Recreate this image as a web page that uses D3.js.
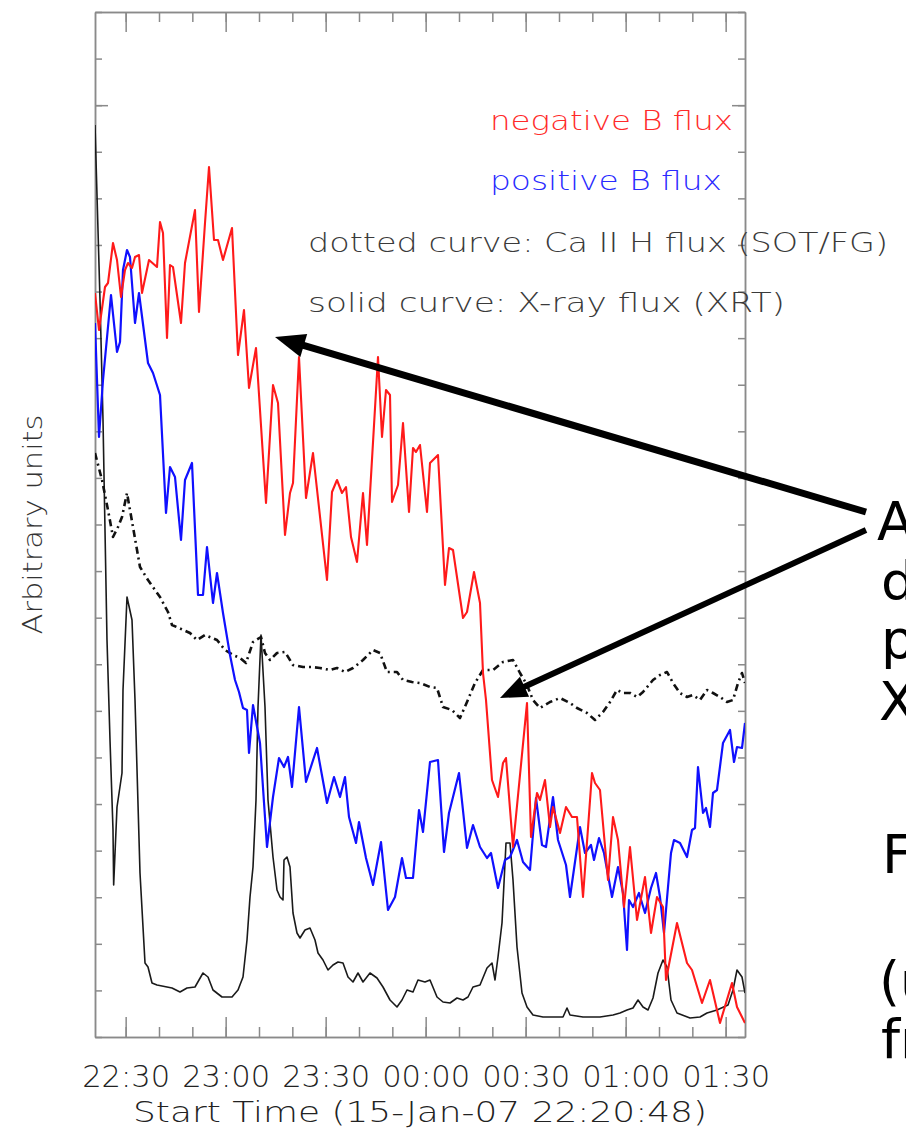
<!DOCTYPE html>
<html>
<head>
<meta charset="utf-8">
<script src="https://cdn.jsdelivr.net/npm/d3@7"></script>
<style>
  html, body { margin: 0; padding: 0; background: #fff; }
  svg { display: block; }
</style>
</head>
<body>
<div id="chart"></div>
<script>
// Time axis: minutes after 15-Jan-07 22:20:48
const tickLabels = ["22:30", "23:00", "23:30", "00:00", "00:30", "01:00", "01:30"];
const majorTicks = [9.2, 39.2, 69.2, 99.2, 129.2, 159.2, 189.2];

// negative B flux (red)
const negT = [0, 1.2, 3.0, 3.9, 5.4, 6.6, 7.8, 9.0, 9.9, 11.1, 12.0, 13.2, 14.1, 16.2, 18.6, 19.5, 20.4, 21.6, 22.5, 23.4,
  25.8, 27.0, 30.0, 31.2, 33.0, 34.2, 35.7, 36.9, 38.4, 41.1, 42.9, 44.7, 46.2, 48.3, 51.3, 53.4, 54.9, 57.0, 58.5, 59.4,
  61.2, 63.3, 65.4, 69.6, 71.1, 72.6, 74.1, 75.3, 76.8, 78.6, 80.4, 81.6, 84.9, 86.1, 87.3, 88.5, 89.1, 90.9, 92.4, 94.2,
  95.4, 96.3, 97.5, 99.6, 100.5, 102.9, 105.0, 106.2, 107.4, 110.4, 111.6, 113.7, 115.5, 116.4, 117.3, 119.1, 120.9, 122.4, 123.3, 125.4,
  129.6, 130.8, 132.6, 133.5, 135.0, 136.5, 137.4, 139.5, 141.3, 143.1, 144.6, 146.4, 149.1, 150.0, 151.5, 153.9, 155.4, 156.9, 158.7, 160.5,
  162.6, 165.0, 166.8, 168.6, 170.4, 171.3, 174.6, 177.6, 179.1, 182.1, 184.5, 187.5, 191.1, 192.6, 195.0];
const negV = [744, 707, 750, 754, 794, 777, 740, 767, 774, 769, 780, 782, 744, 777, 770, 815, 804, 699, 772, 770,
  714, 774, 827, 725, 814, 870, 797, 797, 777, 809, 682, 727, 649, 689, 534, 652, 634, 502, 544, 554,
  680, 539, 584, 457, 545, 557, 544, 550, 500, 475, 544, 492, 680, 600, 647, 642, 535, 552, 614, 525,
  589, 585, 592, 525, 574, 582, 452, 489, 487, 419, 425, 465, 434, 364, 337, 257, 240, 274, 279, 190,
  334, 200, 244, 237, 257, 210, 230, 204, 230, 220, 220, 140, 264, 254, 247, 157, 220, 197, 130, 190,
  117, 160, 104, 140, 130, 57, 114, 74, 67, 34, 57, 14, 54, 30, 14];

// positive B flux (blue)
const posT = [0, 1.2, 2.4, 4.8, 6.6, 7.5, 8.4, 9.6, 10.5, 12.0, 13.2, 15.9, 17.4, 19.5, 21.3, 22.5, 24.0, 25.8, 27.0, 29.1,
  30.9, 32.4, 33.6, 35.4, 36.6, 38.4, 40.5, 42.0, 43.2, 44.4, 45.6, 46.2, 47.4, 49.5, 51.6, 53.4, 55.2, 56.7, 57.9, 59.1,
  61.2, 63.3, 66.6, 69.6, 71.7, 73.5, 75.0, 76.2, 78.3, 79.2, 81.3, 83.4, 85.8, 87.9, 90.0, 92.1, 93.3, 95.4, 97.2, 98.4,
  100.5, 102.9, 104.7, 106.2, 109.2, 111.6, 113.4, 115.5, 117.6, 118.8, 120.9, 123.0, 124.5, 126.6, 128.4, 130.5, 132.3, 134.1, 135.3, 137.4,
  138.9, 141.3, 142.5, 145.5, 147.0, 148.8, 149.7, 151.2, 152.7, 155.1, 156.9, 158.4, 159.6, 160.2, 161.4, 163.2, 165.0, 166.8, 168.3, 169.5,
  170.7, 171.9, 172.8, 173.7, 175.5, 177.6, 179.1, 180.0, 180.9, 182.4, 183.3, 184.5, 185.4, 186.6, 188.4, 190.5, 191.7, 192.6, 194.1, 195.0];
const posV = [714, 600, 657, 742, 685, 695, 767, 787, 780, 714, 744, 674, 664, 642, 524, 570, 560, 497, 557, 574,
  442, 442, 490, 434, 464, 424, 382, 357, 345, 329, 327, 284, 332, 294, 190, 240, 279, 270, 280, 250,
  330, 255, 289, 234, 260, 240, 260, 220, 194, 215, 179, 152, 195, 127, 140, 179, 159, 159, 227, 205,
  275, 277, 185, 224, 264, 189, 212, 190, 179, 184, 149, 177, 180, 197, 175, 167, 239, 192, 190, 240,
  197, 172, 140, 210, 184, 192, 177, 199, 184, 140, 170, 144, 87, 137, 130, 144, 124, 149, 164, 140,
  104, 150, 184, 197, 194, 180, 207, 209, 270, 224, 229, 210, 244, 247, 294, 307, 275, 290, 289, 314];

// Ca II H flux, SOT/FG (dotted)
const caT = [0, 2.1, 3.9, 5.4, 6.9, 8.1, 9.6, 10.5, 11.4, 13.5, 15.9, 19.5, 21.9, 23.1, 25.2, 28.5, 30.6, 33.0, 36.6, 39.0,
  41.4, 43.5, 45.3, 47.4, 49.8, 51.0, 52.5, 54.6, 57.0, 59.4, 62.4, 65.1, 67.5, 70.5, 72.6, 75.0, 77.4, 80.4, 83.4, 85.5,
  87.6, 90.6, 92.4, 95.1, 97.5, 100.5, 102.6, 104.4, 107.1, 109.5, 111.6, 114.0, 116.4, 119.4, 122.4, 125.4, 127.5, 129.6, 131.4, 133.5,
  136.5, 139.5, 142.5, 144.6, 147.6, 150.0, 152.4, 154.5, 156.6, 158.4, 160.5, 162.6, 164.4, 167.4, 169.5, 171.6, 173.4, 175.5, 177.6, 179.4,
  181.5, 183.6, 185.4, 187.5, 189.6, 191.4, 192.9, 194.1, 195.0];
const caV = [584, 557, 527, 500, 510, 520, 544, 527, 510, 470, 457, 440, 425, 412, 409, 404, 397, 402, 397, 387,
  382, 379, 374, 395, 400, 384, 377, 384, 385, 372, 370, 370, 369, 367, 369, 365, 369, 377, 387, 384,
  365, 365, 357, 355, 354, 350, 349, 330, 327, 319, 335, 354, 367, 367, 375, 377, 364, 352, 337, 329,
  335, 339, 334, 329, 324, 317, 325, 335, 347, 344, 344, 340, 345, 357, 362, 365, 354, 344, 340, 342,
  337, 347, 344, 340, 335, 337, 354, 364, 354];

// X-ray flux, XRT (solid)
const xrtT = [0, 1.5, 2.4, 3.6, 4.5, 5.4, 5.6, 6.6, 8.1, 8.4, 9.6, 11.1, 12.0, 13.5, 15.0, 15.9, 17.1, 18.6, 21.6, 23.1,
  25.5, 27.6, 30.0, 32.4, 33.9, 35.4, 38.1, 41.1, 42.9, 44.4, 45.6, 46.5, 47.4, 48.3, 48.9, 49.8, 51.0, 51.9, 53.4, 54.6,
  55.5, 56.4, 56.7, 57.6, 58.5, 59.4, 60.6, 61.5, 63.0, 64.5, 66.0, 66.9, 68.4, 69.9, 71.4, 72.9, 74.4, 75.9, 77.4, 78.9,
  80.4, 82.5, 84.6, 86.4, 88.5, 90.6, 92.1, 93.6, 95.4, 96.9, 99.0, 100.5, 102.6, 104.4, 106.5, 108.6, 110.4, 111.9, 113.4, 115.5,
  117.6, 119.1, 120.0, 120.9, 122.1, 123.3, 124.5, 125.4, 126.6, 128.1, 129.6, 131.4, 134.4, 138.6, 140.4, 141.6, 142.5, 146.4, 151.5, 155.4,
  157.5, 159.6, 161.4, 162.9, 164.4, 165.9, 167.4, 168.9, 170.4, 171.6, 172.8, 174.6, 178.5, 181.5, 183.6, 186.6, 189.9, 191.4, 192.6, 194.1, 195.0];
const xrtV = [912, 737, 617, 397, 297, 207, 152, 230, 264, 347, 440, 417, 337, 164, 74, 70, 54, 52, 50, 49,
  45, 49, 50, 64, 60, 47, 40, 40, 47, 60, 97, 140, 170, 237, 330, 402, 330, 237, 180, 147,
  140, 137, 177, 180, 170, 124, 104, 99, 107, 109, 97, 84, 77, 67, 72, 75, 74, 60, 55, 64,
  55, 64, 59, 50, 37, 30, 37, 47, 45, 57, 55, 57, 40, 35, 34, 39, 37, 40, 50, 52,
  69, 74, 57, 80, 114, 194, 194, 157, 90, 44, 30, 22, 20, 20, 20, 29, 22, 20, 20, 22,
  24, 27, 29, 37, 30, 27, 39, 64, 77, 70, 37, 24, 19, 20, 24, 27, 32, 47, 67, 60, 44];

const legendLabels = ["negative B flux", "positive B flux", "dotted curve: Ca II H flux (SOT/FG)", "solid curve: X-ray flux (XRT)"];
const sideText = ["A", "d", "p", "X", "F", "(u", "fr"];

// Chart dimensions
const width = 906;
const height = 1132;
const plot = { left: 95, right: 745, top: 12, bottom: 1037 };

const x = d3.scaleLinear().domain([0, 195]).range([plot.left, plot.right]);
const y = d3.scaleLinear().domain([0, 1025]).range([plot.bottom, plot.top]);

const svg = d3.select("#chart")
    .append("svg")
    .attr("width", width)
    .attr("height", height)
    .style("font-family", "'DejaVu Sans', sans-serif");

svg.append("defs").append("clipPath")
    .attr("id", "plot-clip")
    .append("rect")
    .attr("x", plot.left)
    .attr("y", plot.top)
    .attr("width", plot.right - plot.left)
    .attr("height", plot.bottom - plot.top);

// Axes on all four sides, ticks pointing inward
const minorTicks = d3.range(0, 19).map(i => 9.2 + i * 10);
const yTicks = d3.range(0, 23).map(i => i * 1025 / 22);
const axisColor = "#8a8a8a";

function styleAxis(g) {
    g.selectAll("path, line").attr("stroke", axisColor).attr("stroke-width", 1.5);
    g.selectAll("text").remove();
}

svg.append("g")
    .attr("transform", `translate(0,${plot.bottom})`)
    .call(d3.axisBottom(x).tickValues(minorTicks).tickSizeInner(-10).tickSizeOuter(0))
    .call(styleAxis);
svg.append("g")
    .attr("transform", `translate(0,${plot.top})`)
    .call(d3.axisTop(x).tickValues(minorTicks).tickSizeInner(-10).tickSizeOuter(0))
    .call(styleAxis);
svg.append("g")
    .attr("transform", `translate(0,${plot.top})`)
    .call(d3.axisTop(x).tickValues(majorTicks).tickSizeInner(-20).tickSizeOuter(0))
    .call(styleAxis);
svg.append("g")
    .attr("transform", `translate(${plot.left},0)`)
    .call(d3.axisLeft(y).tickValues(yTicks).tickSizeInner(-7).tickSizeOuter(0))
    .call(styleAxis);
svg.append("g")
    .attr("transform", `translate(${plot.right},0)`)
    .call(d3.axisRight(y).tickValues(yTicks).tickSizeInner(-7).tickSizeOuter(0))
    .call(styleAxis);
svg.append("g")
    .attr("transform", `translate(${plot.left},0)`)
    .call(d3.axisLeft(y).tickValues([yTicks[20]]).tickSizeInner(-13).tickSizeOuter(0))
    .call(styleAxis);
svg.append("g")
    .attr("transform", `translate(${plot.right},0)`)
    .call(d3.axisRight(y).tickValues([yTicks[20]]).tickSizeInner(-13).tickSizeOuter(0))
    .call(styleAxis);

// Bottom axis with time labels
const xAxis = svg.append("g")
    .attr("transform", `translate(0,${plot.bottom})`)
    .call(d3.axisBottom(x)
        .tickValues(majorTicks)
        .tickFormat((d, i) => tickLabels[i])
        .tickSizeInner(-20)
        .tickSizeOuter(0)
        .tickPadding(24));
xAxis.selectAll("path, line").attr("stroke", axisColor).attr("stroke-width", 1.5);
xAxis.selectAll("text")
    .attr("fill", "#222")
    .attr("font-size", 30)
    .attr("font-family", "'DejaVu Sans', sans-serif")
    .attr("font-weight", 200)
    .attr("dy", null)
    .attr("y", 50)
    .attr("textLength", 88)
    .attr("lengthAdjust", "spacingAndGlyphs");

svg.append("text")
    .attr("x", (plot.left + plot.right) / 2)
    .attr("y", 1122)
    .attr("text-anchor", "middle")
    .attr("font-size", 29)
    .attr("font-weight", 200)
    .attr("fill", "#222")
    .attr("textLength", 574)
    .attr("lengthAdjust", "spacingAndGlyphs")
    .text("Start Time (15-Jan-07 22:20:48)");

svg.append("text")
    .attr("transform", `translate(42,${(plot.top + plot.bottom) / 2}) rotate(-90)`)
    .attr("text-anchor", "middle")
    .attr("font-size", 27)
    .attr("font-weight", 200)
    .attr("fill", "#333")
    .attr("textLength", 220)
    .attr("lengthAdjust", "spacingAndGlyphs")
    .text("Arbitrary units");

// Curves
const series = [
    { t: xrtT, v: xrtV, color: "#1a1a1a", width: 1.6, dash: null },
    { t: caT, v: caV, color: "#111", width: 2.6, dash: "7,4,2,4" },
    { t: posT, v: posV, color: "#1010ff", width: 2.2, dash: null },
    { t: negT, v: negV, color: "#ff1a1a", width: 2.1, dash: null }
];

const line = d3.line()
    .x(d => x(d[0]))
    .y(d => y(d[1]));

const curves = svg.append("g").attr("clip-path", "url(#plot-clip)");
series.forEach(s => {
    curves.append("path")
        .attr("d", line(d3.zip(s.t, s.v)))
        .attr("fill", "none")
        .attr("stroke", s.color)
        .attr("stroke-width", s.width)
        .attr("stroke-linejoin", "round")
        .attr("stroke-dasharray", s.dash);
});

// Legend text
const legend = [
    { x: 490, y: 130, len: 243, color: "#ff2a2a" },
    { x: 490, y: 190, len: 232, color: "#2a2aff" },
    { x: 308, y: 252, len: 580, color: "#3a3a3a" },
    { x: 308, y: 312, len: 477, color: "#3a3a3a" }
];
legend.forEach((d, i) => {
    svg.append("text")
        .attr("x", d.x)
        .attr("y", d.y)
        .attr("font-size", 26)
        .attr("font-weight", 200)
        .attr("fill", d.color)
        .attr("textLength", d.len)
        .attr("lengthAdjust", "spacingAndGlyphs")
        .text(legendLabels[i]);
});

// Annotation arrows (positions in data units)
const arrows = [
    { from: [231.3, 525], to: [54, 700], w: 7, head: 30, half: 12 },
    { from: [231.3, 507], to: [121.5, 339], w: 6, head: 27, half: 11 }
];
arrows.forEach(a => {
    const x0 = x(a.from[0]), y0 = y(a.from[1]);
    const x1 = x(a.to[0]), y1 = y(a.to[1]);
    const len = Math.hypot(x1 - x0, y1 - y0);
    const ux = (x1 - x0) / len, uy = (y1 - y0) / len;
    const bx = x1 - ux * a.head, by = y1 - uy * a.head;
    svg.append("line")
        .attr("x1", x0).attr("y1", y0)
        .attr("x2", bx + ux * 2).attr("y2", by + uy * 2)
        .attr("stroke", "#000")
        .attr("stroke-width", a.w);
    svg.append("path")
        .attr("d", `M${x1},${y1}L${bx - uy * a.half},${by + ux * a.half}L${bx + uy * a.half},${by - ux * a.half}Z`)
        .attr("fill", "#000");
});

// Slide text cut off at the right edge (as in the original)
const sideLines = [
    { x: 877, y: 540 }, { x: 881, y: 600 }, { x: 881, y: 658 }, { x: 879, y: 720 },
    { x: 882, y: 873 }, { x: 879, y: 1000 }, { x: 881, y: 1058 }
];
sideLines.forEach((d, i) => {
    svg.append("text")
        .attr("x", d.x)
        .attr("y", d.y)
        .attr("font-size", 54)
        .attr("fill", "#000")
        .text(sideText[i]);
});
</script>
</body>
</html>
